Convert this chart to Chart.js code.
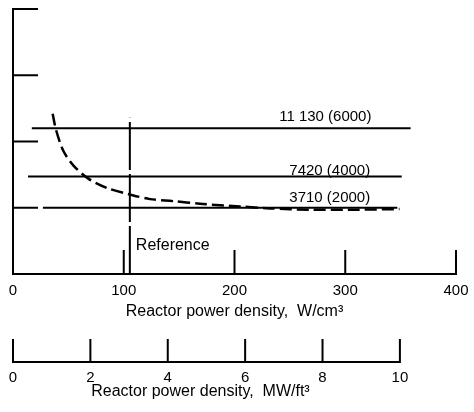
<!DOCTYPE html>
<html>
<head>
<meta charset="utf-8">
<script src="https://cdn.jsdelivr.net/npm/chart.js@4.4.1/dist/chart.umd.min.js"></script>
<style>
  body { margin: 0; background: #fff; }
</style>
</head>
<body>
<canvas id="my-chart" width="474" height="412"></canvas>
<script>
// tick values of the two power density axes and the (unlabelled) y axis
const wTicks = [0, 100, 200, 300, 400];
const mwTicks = [0, 2, 4, 6, 8, 10];
const yTicks = [1, 2, 3, 4];

// dashed curve
const curveX = [35.8, 38.8, 45.4, 54.4, 68, 84.6, 105.6, 123.7, 144.5, 168.8, 205, 232, 268, 304, 349];
const curveY = [2.42, 2.18, 1.86, 1.64, 1.44, 1.3, 1.2, 1.13, 1.1, 1.06, 1.02, 0.99, 0.97, 0.97, 0.98];

// the three horizontal lines
const levelNames = ["11 130 (6000)", "7420 (4000)", "3710 (2000)"];
const levelY = [2.2, 1.47, 1.0];
const levelStart = [17, 13.5, 27];
const levelEnd = [359, 351, 347];

// reference design line
const referenceX = 105.5;
const referenceTop = 2.36;
const referenceName = "Reference";

const FONT = "'Liberation Sans', Arial, sans-serif";
Chart.defaults.font.family = FONT;
Chart.defaults.color = "#000";

// inward ticks, the MW/ft3 axis and the text labels
const axisMarks = {
  id: "axisMarks",
  afterDraw(chart) {
    const { ctx, chartArea, scales } = chart;
    const { x, x2, y } = scales;
    ctx.save();
    ctx.strokeStyle = "#000";
    ctx.lineWidth = 2;
    ctx.beginPath();
    wTicks.slice(1).forEach((v) => {
      const px = x.getPixelForValue(v);
      ctx.moveTo(px, chartArea.bottom);
      ctx.lineTo(px, chartArea.bottom - 24);
    });
    yTicks.forEach((v) => {
      const py = y.getPixelForValue(v);
      ctx.moveTo(chartArea.left, py);
      ctx.lineTo(chartArea.left + 25, py);
    });
    // second axis, MW/ft3
    const base = chartArea.bottom + 88;
    const mwLast = mwTicks[mwTicks.length - 1];
    ctx.moveTo(x2.getPixelForValue(0) - 1, base);
    ctx.lineTo(x2.getPixelForValue(mwLast) + 1, base);
    mwTicks.forEach((v) => {
      const px = x2.getPixelForValue(v);
      ctx.moveTo(px, base);
      ctx.lineTo(px, base - 23);
    });
    ctx.stroke();

    ctx.fillStyle = "#000";
    ctx.textAlign = "center";
    ctx.textBaseline = "middle";
    ctx.font = "15px " + FONT;
    mwTicks.forEach((v) => {
      ctx.fillText(String(v), x2.getPixelForValue(v), base + 16);
    });
    ctx.font = "16px " + FONT;
    ctx.fillText("Reactor power density,  MW/ft³", x2.getPixelForValue(mwLast / 2) - 6, base + 30);

    ctx.textBaseline = "alphabetic";
    ctx.font = "15px " + FONT;
    const lift = [7, 2, 6];
    const labelX = [282, 286, 286];
    levelNames.forEach((name, i) => {
      ctx.fillText(name, x.getPixelForValue(labelX[i]), y.getPixelForValue(levelY[i]) - lift[i]);
    });
    ctx.textAlign = "left";
    ctx.font = "16px " + FONT;
    ctx.fillText(referenceName, x.getPixelForValue(referenceX) + 6, chartArea.bottom - 24);
    ctx.restore();
  },
};

const lineStyle = { borderColor: "#000", borderWidth: 2, pointRadius: 0, showLine: true, fill: false };

const datasets = levelY.map((lv, i) => ({
  ...lineStyle,
  label: levelNames[i],
  data: [{ x: levelStart[i], y: lv }, { x: levelEnd[i], y: lv }],
}));
datasets.push({
  ...lineStyle,
  label: "curve",
  borderWidth: 2.5,
  borderDash: [12, 5],
  tension: 0.3,
  data: curveX.map((v, i) => ({ x: v, y: curveY[i] })),
});
datasets.push({
  ...lineStyle,
  label: referenceName,
  borderDash: [48, 4],
  data: [{ x: referenceX, y: 0 }, { x: referenceX, y: referenceTop }],
});

const ctx = document.getElementById("my-chart").getContext("2d");
const myChart = new Chart(ctx, {
  type: "scatter",
  data: { datasets },
  options: {
    responsive: false,
    animation: false,
    layout: { padding: { left: 13, right: 18, top: 9, bottom: 92 } },
    plugins: { legend: { display: false }, tooltip: { enabled: false } },
    scales: {
      x: {
        type: "linear",
        position: "bottom",
        min: 0,
        max: 400,
        grid: { display: false, drawTicks: true, tickLength: 5 },
        border: { display: true, color: "#000", width: 2 },
        afterBuildTicks: (s) => { s.ticks = wTicks.map((v) => ({ value: v })); },
        ticks: { padding: 4, maxRotation: 0, font: { size: 15, lineHeight: 1 } },
        title: {
          display: true,
          text: "Reactor power density,  W/cm³",
          font: { size: 16, lineHeight: 1 },
          padding: { top: 2, bottom: 0 },
        },
      },
      // MW/ft3 scale, drawn by the plugin above
      x2: {
        type: "linear",
        display: false,
        axis: "x",
        min: 0,
        max: 11.45,
      },
      y: {
        min: 0,
        max: 4,
        grid: { display: false, drawTicks: false },
        border: { display: true, color: "#000", width: 2 },
        ticks: { display: false },
      },
    },
  },
  plugins: [axisMarks],
});
</script>
</body>
</html>
